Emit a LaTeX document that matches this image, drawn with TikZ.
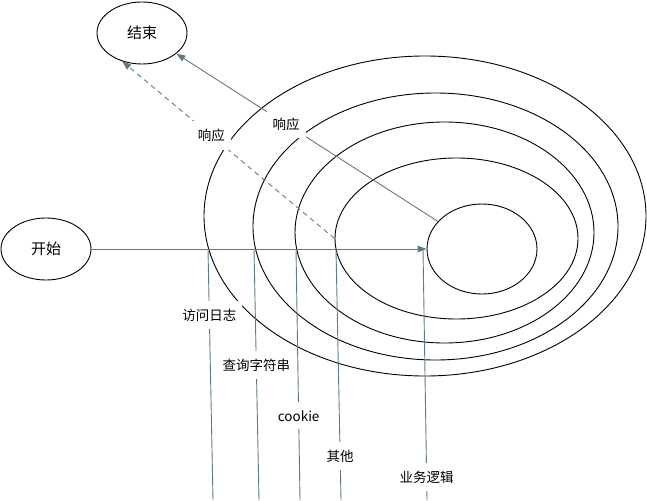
\documentclass[tikz,border=0pt]{standalone}
\usepackage{fontspec}
\setmainfont{Noto Sans CJK SC}
\usetikzlibrary{arrows.meta,shapes.geometric}
\definecolor{conn}{HTML}{5F7A86}
\tikzset{
  oval/.style={draw=black, line width=0.9pt, ellipse, inner sep=0pt},
  term/.style={oval, font=\fontsize{15}{15}\selectfont},
  wire/.style={draw=conn, line width=0.9pt},
  arr/.style={wire, -{Triangle[length=9pt,width=6.5pt]}},
  dashwire/.style={arr, dash pattern=on 5pt off 4pt},
  lbl/.style={fill=white, inner xsep=6pt, inner ysep=8pt, text=black, font=\fontsize{13.5}{13.5}\selectfont}
}
\begin{document}
\begin{tikzpicture}[x=1pt,y=-1pt]
\useasboundingbox (0,0) rectangle (647,500);
% rings
\node[oval, minimum width=442pt, minimum height=320pt] (e5) at (425,216) {};
\node[oval, minimum width=365pt, minimum height=267pt] (e4) at (435.5,226.5) {};
\node[oval, minimum width=299pt, minimum height=221pt] (e3) at (444.5,232.5) {};
\node[oval, minimum width=243pt, minimum height=161pt] (e2) at (456.5,238.5) {};
\node[oval, minimum width=110pt, minimum height=90pt] (e1) at (482,249) {};
% terminals
\node[term, minimum width=90pt, minimum height=62pt] (start) at (46,249) {开始};
\node[term, minimum width=90pt, minimum height=62pt] (end) at (142,33) {结束};
% request line
\draw[arr] (start.east) -- (e1.west);
% taps
\coordinate (t1) at (208,249); \coordinate (b1) at (213,500);
\coordinate (t2) at (254,249); \coordinate (b2) at (259,500);
\coordinate (t3) at (296,249); \coordinate (b3) at (300,500);
\coordinate (t4) at (336,249); \coordinate (b4) at (341,500);
\coordinate (t5) at (423,249); \coordinate (b5) at (427,500);
\draw[wire] (t1) -- node[lbl, pos=0.263] (l1) {访问日志} (b1);
\draw[wire] (t2) -- node[lbl, pos=0.462] (l2) {查询字符串} (b2);
\draw[wire] (t3) -- node[lbl, pos=0.665] (l3) {cookie} (b3);
\draw[wire] (t4) -- node[lbl, pos=0.825] (l4) {其他} (b4);
\draw[wire] (t5) -- node[lbl, pos=0.908] (l5) {业务逻辑} (b5);
% responses
\draw[arr] (e1.148.5) -- node[lbl, pos=0.58] (r1) {响应} (end.329.5);
\draw[dashwire] (e2.west) -- node[lbl, pos=0.58] (r2) {响应} (end.235);
\end{tikzpicture}
\end{document}
